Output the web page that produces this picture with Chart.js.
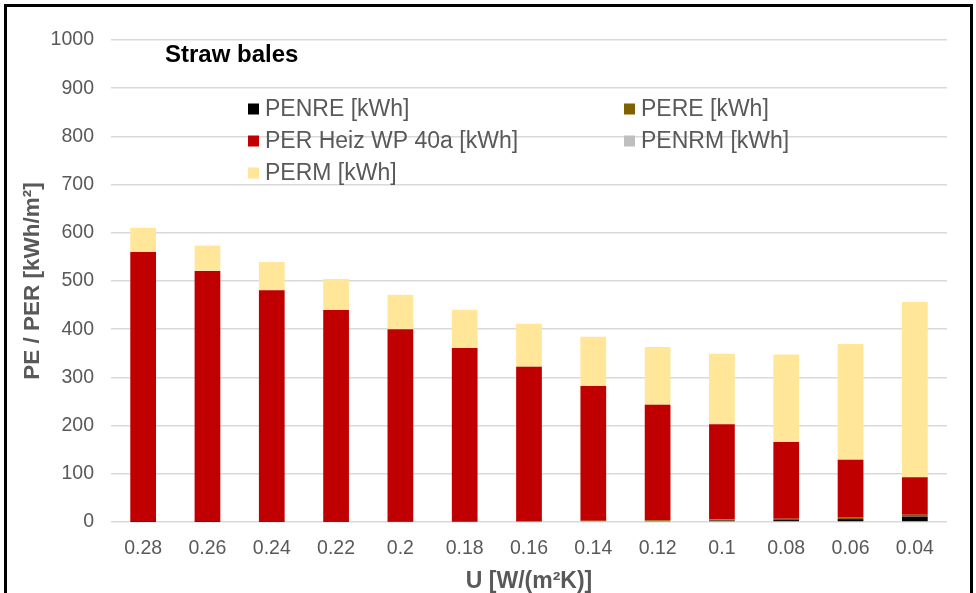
<!DOCTYPE html>
<html>
<head>
<meta charset="utf-8">
<script src="https://cdn.jsdelivr.net/npm/chart.js@4"></script>
<style>
  html, body { margin: 0; padding: 0; background: #ffffff; }
  #wrap { position: relative; width: 976px; height: 593px; }
</style>
</head>
<body>
<div id="wrap"><canvas id="c" width="976" height="593"></canvas></div>
<script>
// ---- data ----
const categories = ['0.28','0.26','0.24','0.22','0.2','0.18','0.16','0.14','0.12','0.1','0.08','0.06','0.04'];
const penre   = [0.3, 0.3, 0.4, 0.5, 0.6, 0.8, 1.2, 1.6, 2, 3, 4, 6, 11];
const pere    = [0.5, 0.5, 0.6, 0.7, 0.8, 0.9, 1, 1.2, 1.5, 2.5, 2.7, 3.5, 4];
const perHeiz = [559.2, 520.2, 480, 438.8, 398.6, 359.3, 319.8, 279.2, 239.5, 197.5, 159.3, 119.5, 78];
const penrm   = [0.3, 0.3, 0.3, 0.3, 0.3, 0.3, 0.3, 0.3, 0.3, 0.3, 0.3, 0.3, 0.3];
const perm    = [50, 52, 58, 64, 71, 79, 89, 102, 120, 146, 181, 240, 363];
const seriesLabels = ['PENRE [kWh]', 'PERE [kWh]', 'PER Heiz WP 40a [kWh]', 'PENRM [kWh]', 'PERM [kWh]'];
const yTicks = [0, 100, 200, 300, 400, 500, 600, 700, 800, 900, 1000];
const chartTitle = 'Straw bales';
const xTitle = 'U [W/(m²K)]';
const yTitle = 'PE / PER [kWh/m²]';

const colors = ['#000000', '#7f6000', '#c00000', '#bfbfbf', '#ffe699'];
const FONT = '"Liberation Sans", Arial, sans-serif';
const GREY = '#595959';

const series = [penre, pere, perHeiz, penrm, perm];
const datasets = series.map((d, i) => ({
  label: seriesLabels[i],
  data: d,
  backgroundColor: colors[i],
  borderWidth: 0,
  barPercentage: 0.4,
  categoryPercentage: 1.0,
  stack: 's'
}));

const framePlugin = {
  id: 'frame',
  afterDraw(chart) {
    const ctx = chart.ctx;
    ctx.save();
    ctx.strokeStyle = '#000';
    ctx.lineWidth = 3;
    ctx.strokeRect(5.5, 5.5, 966, 700);
    ctx.restore();
  }
};

const overlayPlugin = {
  id: 'overlay',
  afterDraw(chart) {
    const ctx = chart.ctx;
    const a = chart.chartArea;
    ctx.save();
    // title inside plot area
    ctx.fillStyle = '#000';
    ctx.font = 'bold 24px ' + FONT;
    ctx.textBaseline = 'middle';
    ctx.textAlign = 'left';
    ctx.fillText(chartTitle, a.left + 54, a.top + 15);
    // legend, two columns
    const colBox = [a.left + 137, a.left + 513];
    const rowY = [a.top + 69, a.top + 101, a.top + 133];
    ctx.font = '23px ' + FONT;
    chart.data.datasets.forEach((ds, i) => {
      const col = i % 2, row = Math.floor(i / 2);
      const x = colBox[col], y = rowY[row];
      ctx.fillStyle = ds.backgroundColor;
      ctx.fillRect(x, y - 5.5, 11, 11);
      ctx.fillStyle = GREY;
      ctx.fillText(ds.label, x + 17, y + 1);
    });
    ctx.restore();
  }
};

new Chart(document.getElementById('c'), {
  type: 'bar',
  data: { labels: categories, datasets },
  plugins: [framePlugin, overlayPlugin],
  options: {
    responsive: false,
    animation: false,
    layout: { padding: { top: 40, right: 29, left: 0, bottom: 0 } },
    plugins: { legend: { display: false }, tooltip: { enabled: false } },
    scales: {
      x: {
        stacked: true,
        grid: { display: false, drawTicks: false },
        border: { display: false },
        ticks: { color: GREY, font: { family: FONT, size: 19.5 }, padding: 15, maxRotation: 0, autoSkip: false },
        title: { display: true, text: xTitle, color: GREY, font: { family: FONT, size: 23, weight: 'bold', lineHeight: 1 }, padding: { top: 0, bottom: 0 } },
        afterFit(scale) { scale.height = 71; }
      },
      y: {
        stacked: true,
        min: 0,
        max: 1000,
        afterBuildTicks(scale) { scale.ticks = yTicks.map(v => ({ value: v })); },
        grid: { color: '#d9d9d9', lineWidth: 1.5, drawTicks: false },
        border: { display: false },
        ticks: { color: GREY, font: { family: FONT, size: 19.5 }, padding: 17, callback: v => String(v) },
        title: { display: true, text: yTitle, color: GREY, font: { family: FONT, size: 22.5, weight: 'bold' }, padding: { top: 19, bottom: 0 } },
        afterFit(scale) { scale.width = 111; }
      }
    }
  }
});
</script>
</body>
</html>
